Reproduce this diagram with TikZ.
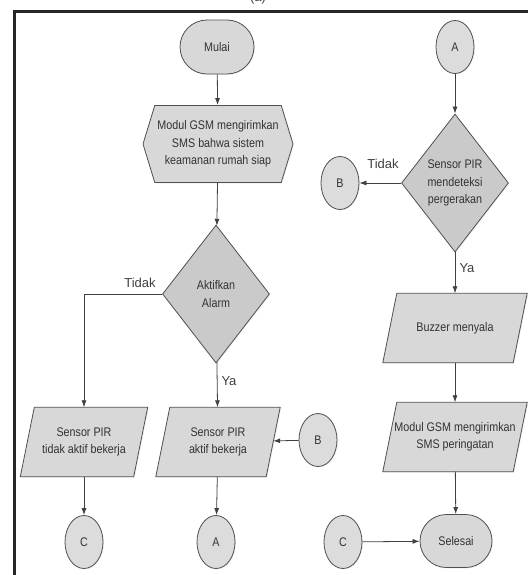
\documentclass[tikz,border=0pt]{standalone}
\usepackage{fontspec}
\setmainfont{Liberation Sans}
\newfontfamily\narrowfont{Liberation Sans}[FakeStretch=0.86]
\usetikzlibrary{shapes.geometric,shapes.symbols,shapes.misc,arrows.meta,shadows,backgrounds}
\definecolor{boxfill}{HTML}{D8D8D8}
\definecolor{diafill}{HTML}{CACACA}
\definecolor{ellfill}{HTML}{DCDCDC}
\definecolor{edge}{HTML}{505050}
\newcommand{\paraoutline}[1]{%
  \begin{scope}[on background layer]
  \filldraw[parashape]
    ([xshift=-7pt]#1.south west) -- ([xshift=7pt]#1.north west) --
    ([xshift=7pt]#1.north east) -- ([xshift=-7pt]#1.south east) -- cycle;
  \end{scope}}
\begin{document}
\begin{tikzpicture}[x=1pt,y=-1pt,
  base/.style={draw=edge, line width=0.8pt, text=black!80, align=center, inner sep=0pt,
    font=\narrowfont\fontsize{12.5}{17.5}\selectfont,
    drop shadow={opacity=0.12, shadow xshift=1pt, shadow yshift=-1pt}},
  term/.style={base, fill=boxfill, rounded rectangle, minimum width=74pt, minimum height=54pt},
  hexbox/.style={base, fill=boxfill, signal, signal to=west and east, signal pointer angle=146,
    minimum width=150pt, minimum height=77pt},
  decide/.style={base, fill=diafill, diamond, minimum width=107pt, minimum height=138pt},
  para/.style={text=black!80, align=center, inner sep=0pt, rectangle,
    font=\narrowfont\fontsize{12.5}{17.5}\selectfont, minimum height=69pt},
  parashape/.style={draw=edge, line width=0.8pt, fill=boxfill,
    drop shadow={opacity=0.12, shadow xshift=1pt, shadow yshift=-1pt}},
  conn/.style={base, fill=ellfill, ellipse, minimum width=38pt, minimum height=53pt},
  flow/.style={draw=black!75, line width=0.8pt, -{Latex[length=7pt,width=5pt]}},
  lbl/.style={font=\fontsize{13}{15}\selectfont, text=black!75, inner sep=0pt}
]
\useasboundingbox (0,0) rectangle (527,575);
% frame
\draw[line width=3pt, black!85] (14,578) -- (14,12) -- (530,12);
\node[lbl] (cap) at (258,-2) {(a)};

% left flow
\node[term] (mulai) at (217,47) {Mulai};
\node[hexbox] (gsm1) at (218,144) {Modul GSM mengirimkan\\SMS bahwa sistem\\keamanan rumah siap};
\node[decide] (aktif) at (216,294) {Aktifkan\\Alarm};
\node[para, minimum width=113pt] (tdk) at (84,442) {Sensor PIR\\tidak aktif bekerja};
\node[para, minimum width=110pt] (akt) at (218,442) {Sensor PIR\\aktif bekerja};
\paraoutline{tdk}
\paraoutline{akt}
\node[conn] (bb) at (318,440) {B};
\node[conn] (cl) at (84,542) {C};
\node[conn] (al) at (216,542) {A};

% right flow
\node[conn] (at) at (455,47) {A};
\node[decide] (pir) at (455,183) {Sensor PIR\\mendeteksi\\pergerakan};
\node[conn] (bt) at (340,183) {B};
\node[para, minimum width=130pt] (buz) at (455,328) {Buzzer menyala};
\node[para, minimum width=130pt] (gsm2) at (455,437) {Modul GSM mengirimkan\\SMS peringatan};
\paraoutline{buz}
\paraoutline{gsm2}
\node[term, minimum width=72pt, minimum height=53pt] (sel) at (456,541) {Selesai};
\node[conn] (cr) at (343,542) {C};

% connectors
\draw[flow] (mulai) -- (gsm1);
\draw[flow] (gsm1) -- (aktif);
\draw[flow] (aktif.west) -| (tdk.north);
\draw[flow] (aktif) -- (akt);
\draw[flow] (bb) -- (akt);
\draw[flow] (tdk) -- (cl);
\draw[flow] (akt) -- (al);

\draw[flow] (at) -- (pir);
\draw[flow] (pir) -- (bt);
\draw[flow] (pir) -- (buz);
\draw[flow] (buz) -- (gsm2);
\draw[flow] (gsm2) -- (sel);
\draw[flow] (cr) -- (sel);

% labels
\node[lbl] (t1) at (140,283) {Tidak};
\node[lbl] (y1) at (229,381) {Ya};
\node[lbl] (t2) at (383,164) {Tidak};
\node[lbl] (y2) at (467,268) {Ya};
\end{tikzpicture}
\end{document}
